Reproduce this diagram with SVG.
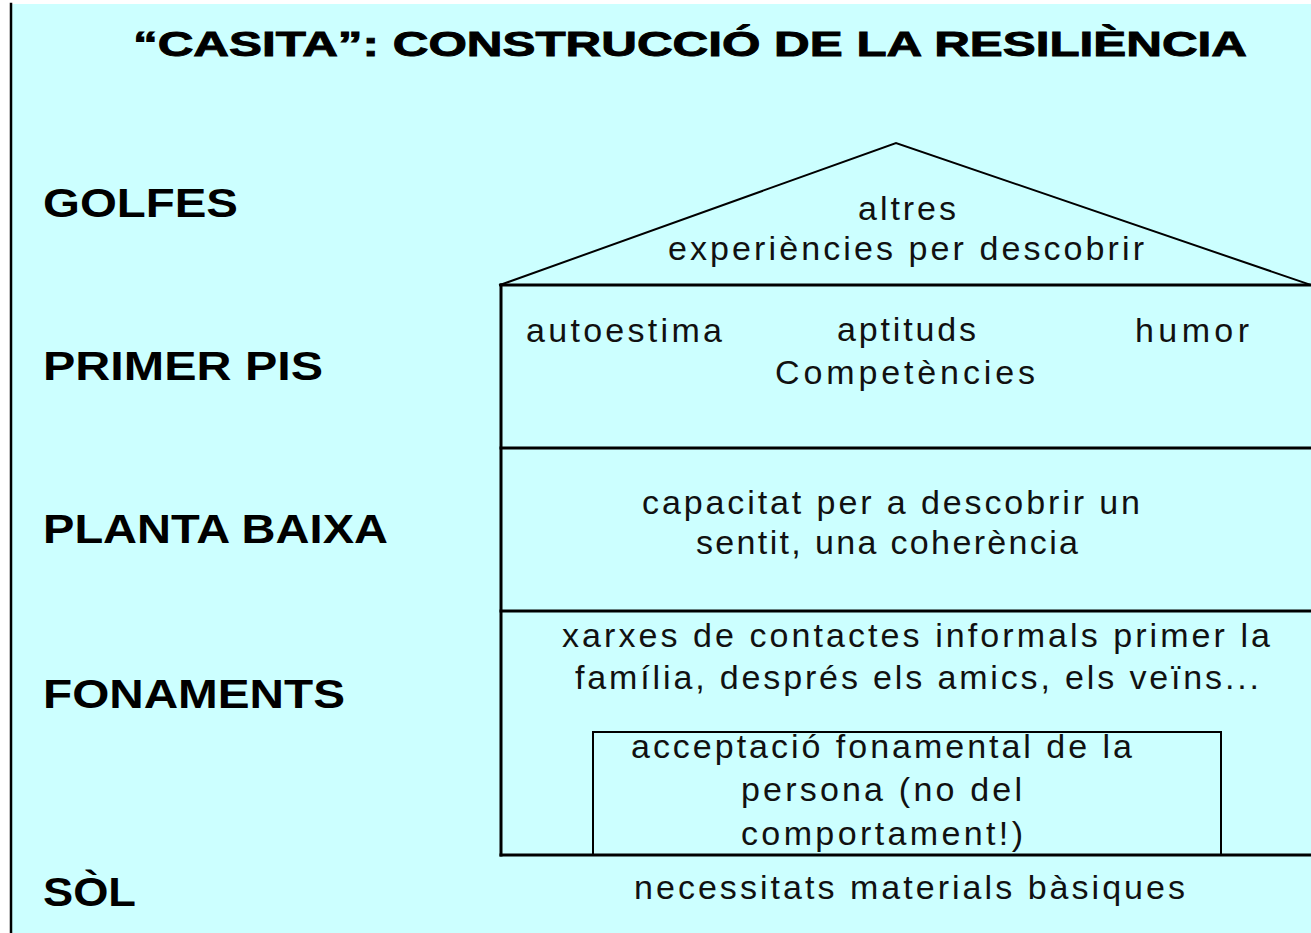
<svg xmlns="http://www.w3.org/2000/svg" width="1311" height="933" viewBox="0 0 1311 933">
<style>
.bg{fill:#CCFFFF}
.title{font-family:"Liberation Sans",Arial,sans-serif;font-weight:bold;font-size:35px;fill:#000;stroke:#000;stroke-width:0.9}
.lbl{font-family:"Liberation Sans",Arial,sans-serif;font-weight:bold;font-size:40px;fill:#000}
.txt{font-family:"Liberation Sans",Arial,sans-serif;font-size:34px;fill:#111}
.ln{stroke:#000;fill:none;stroke-linecap:square}
.thick{stroke-width:3}
.thin{stroke-width:2}
</style>
<rect x="0" y="0" width="1311" height="933" fill="#fff"/>
<rect class="bg" x="10" y="4" width="1301" height="929"/>
<line class="ln" x1="11" y1="4" x2="11" y2="933" stroke-width="2.5"/>
<g id="title">
<text class="title" x="133" y="56" textLength="1114" lengthAdjust="spacingAndGlyphs">“CASITA”: CONSTRUCCIÓ DE LA RESILIÈNCIA</text>
</g>
<g id="labels">
<text class="lbl" x="43" y="217" textLength="195" lengthAdjust="spacingAndGlyphs">GOLFES</text>
<text class="lbl" x="43" y="380" textLength="280" lengthAdjust="spacingAndGlyphs">PRIMER PIS</text>
<text class="lbl" x="43" y="543" textLength="345" lengthAdjust="spacingAndGlyphs">PLANTA BAIXA</text>
<text class="lbl" x="43" y="708" textLength="302" lengthAdjust="spacingAndGlyphs">FONAMENTS</text>
<text class="lbl" x="43" y="906" textLength="93" lengthAdjust="spacingAndGlyphs">SÒL</text>
</g>
<g id="connectors">
<polyline class="ln thin" points="500,285 896,143 1311,285"/>
<line class="ln thick" x1="501" y1="285" x2="1311" y2="285"/>
<line class="ln thick" x1="501" y1="448" x2="1311" y2="448"/>
<line class="ln thick" x1="501" y1="611" x2="1311" y2="611"/>
<line class="ln thick" x1="501" y1="855" x2="1311" y2="855"/>
<line class="ln thick" x1="501" y1="285" x2="501" y2="855"/>
</g>
<g id="golfes">
<text class="txt" x="858" y="220" textLength="98" lengthAdjust="spacing">altres</text>
<text class="txt" x="668" y="260" textLength="476" lengthAdjust="spacing">experiències per descobrir</text>
</g>
<g id="primer-pis">
<text class="txt" x="526" y="342" textLength="196" lengthAdjust="spacing">autoestima</text>
<text class="txt" x="837" y="341" textLength="139" lengthAdjust="spacing">aptituds</text>
<text class="txt" x="1135" y="342" textLength="114" lengthAdjust="spacing">humor</text>
<text class="txt" x="775" y="384" textLength="260" lengthAdjust="spacing">Competències</text>
</g>
<g id="planta-baixa">
<text class="txt" x="642" y="514" textLength="498" lengthAdjust="spacing">capacitat per a descobrir un</text>
<text class="txt" x="696" y="554" textLength="382" lengthAdjust="spacing">sentit, una coherència</text>
</g>
<g id="fonaments">
<text class="txt" x="562" y="647" textLength="708" lengthAdjust="spacing">xarxes de contactes informals primer la</text>
<text class="txt" x="575" y="689" textLength="684" lengthAdjust="spacing">família, després els amics, els veïns...</text>
</g>
<g id="acceptacio">
<rect class="ln thin" x="593" y="732" width="628" height="123"/>
<text class="txt" x="631" y="758" textLength="501" lengthAdjust="spacing">acceptació fonamental de la</text>
<text class="txt" x="741" y="801" textLength="281" lengthAdjust="spacing">persona (no del</text>
<text class="txt" x="741" y="845" textLength="282" lengthAdjust="spacing">comportament!)</text>
</g>
<g id="sol">
<text class="txt" x="634" y="899" textLength="551" lengthAdjust="spacing">necessitats materials bàsiques</text>
</g>
</svg>
